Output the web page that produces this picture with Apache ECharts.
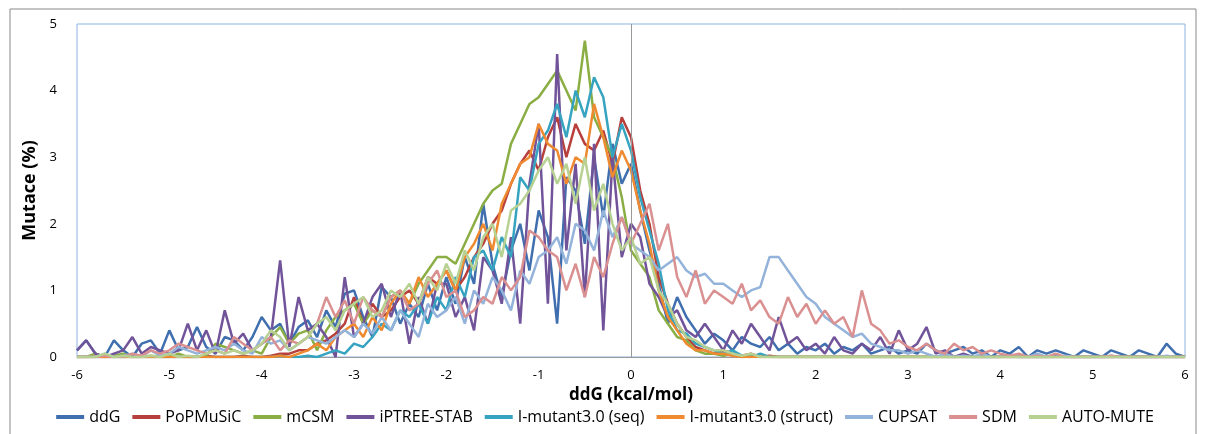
<!DOCTYPE html>
<html>
<head>
<meta charset="utf-8">
<script src="https://cdn.jsdelivr.net/npm/echarts@6/dist/echarts.min.js"></script>
<style>html,body{margin:0;padding:0;background:#fff}#main{width:1210px;height:434px}</style>
</head>
<body>
<div id="main"></div>
<script>
// x from -6 to 6, step 0.1
var xStart = -6, xStep = 0.1;
var names = ['ddG', 'PoPMuSiC', 'mCSM', 'iPTREE-STAB', 'I-mutant3.0 (seq)', 'I-mutant3.0 (struct)', 'CUPSAT', 'SDM', 'AUTO-MUTE'];
var colors = ['#3F6FAE', '#B8403C', '#8AAE44', '#71539A', '#36A4C0', '#F08A30', '#94B3DA', '#DA9090', '#B7D192'];

var ddG = [0.1,0.25,0.05,0,0.25,0.1,0,0.2,0.25,0.05,
  0.4,0.1,0.15,0.45,0.15,0.05,0.3,0.25,0.1,0.3,
  0.6,0.4,0.5,0.2,0.45,0.55,0.3,0.7,0.45,0.95,
  1.0,0.6,0.3,1.05,0.9,0.5,0.8,0.6,1.1,0.7,
  1.2,0.8,1.5,1.1,2.3,1.4,0.9,1.6,2.0,1.3,
  2.2,1.8,0.5,2.7,2.5,1.7,3.0,2.1,3.2,2.6,
  2.9,2.2,1.6,1.1,0.5,0.9,0.6,0.4,0.2,0.35,
  0.25,0.1,0.3,0.2,0.15,0.3,0.1,0.2,0.05,0.15,
  0.1,0.2,0.05,0.15,0.1,0.2,0.05,0.1,0.15,0.05,
  0.1,0.05,0.2,0.1,0.05,0.1,0.15,0.05,0.1,0,
  0.1,0.05,0.15,0,0.1,0.05,0.1,0.05,0,0.1,
  0.05,0,0.1,0.05,0,0.1,0.05,0,0.2,0.05,0];
var popmusic = [0,0,0,0,0,0,0,0,0,0,
  0,0,0,0,0.02,0,0,0,0.02,0,
  0,0.02,0.05,0.05,0.1,0.1,0.2,0.25,0.35,0.5,
  0.9,0.5,0.8,0.6,0.7,0.9,1.0,0.8,1.2,1.1,
  1.3,1.0,1.2,1.5,1.7,2.0,2.2,2.6,2.9,3.1,
  2.8,3.3,3.6,3.0,3.5,3.2,3.1,3.4,2.9,3.6,
  3.3,2.5,2.0,1.2,0.8,0.5,0.3,0.15,0.1,0.05,
  0.1,0.05,0.02,0.05,0,0.02,0,0,0,0,
  0,0,0,0,0,0,0,0,0,0,
  0,0,0,0,0,0,0,0,0,0,
  0,0,0,0,0,0,0,0,0,0,
  0,0,0,0,0,0,0,0,0,0,0];
var mcsm = [0,0,0.05,0,0.02,0.05,0,0,0.02,0,
  0,0.05,0,0,0.02,0.2,0.15,0.1,0.05,0.1,
  0.05,0.3,0.45,0.2,0.35,0.4,0.1,0.4,0.6,0.7,
  0.8,0.5,0.7,0.6,0.9,1.0,0.8,1.1,1.3,1.5,
  1.5,1.4,1.7,2.0,2.3,2.5,2.6,3.2,3.5,3.8,
  3.9,4.1,4.3,4.0,3.7,4.75,3.6,3.3,3.0,2.4,
  1.6,1.4,1.2,0.7,0.5,0.3,0.25,0.1,0.05,0.05,
  0.02,0.05,0,0.02,0,0,0,0,0,0,
  0,0,0,0,0,0,0,0,0,0,
  0,0,0,0,0,0,0,0,0,0,
  0,0,0,0,0,0,0,0,0,0,
  0,0,0,0,0,0,0,0,0,0,0];
var iptree = [0.1,0.25,0.05,0,0.05,0.1,0.3,0.05,0.15,0.1,
  0.05,0.1,0.5,0.1,0.4,0.05,0.7,0.2,0.35,0.1,
  0.2,0.3,1.45,0.15,0.9,0.4,0.5,0.3,0,1.2,
  0.3,0.5,0.9,1.1,0.6,1.0,0.2,0.9,0.5,1.1,
  1.1,0.6,0.9,0.4,1.5,1.3,0.8,1.8,0.5,2.6,
  3.5,0.8,4.55,1.6,2.9,0.9,3.2,0.4,3.0,1.5,
  2.0,1.8,1.1,0.9,0.6,0.7,0.4,0.3,0.5,0.3,
  0.1,0.4,0.2,0.5,0.3,0.1,0.6,0.2,0.3,0.1,
  0.2,0.05,0.3,0.1,0.05,0.2,0.1,0.3,0.05,0.4,
  0.1,0.2,0.45,0.05,0.1,0,0.05,0,0,0,
  0,0.02,0,0,0,0,0.02,0,0,0,
  0,0,0,0,0,0,0,0,0,0,0];
var imutSeq = [0,0,0,0,0,0,0,0,0,0,
  0,0,0,0,0,0,0,0,0,0,
  0,0,0.02,0,0,0.02,0,0.05,0.1,0.05,
  0.2,0.15,0.3,0.5,0.4,0.7,0.6,0.8,0.5,0.9,
  0.7,1.2,0.9,1.5,1.6,1.3,1.8,1.5,2.7,2.5,
  3.2,3.4,3.8,3.3,4.0,3.6,4.2,3.9,3.0,3.5,
  3.1,2.4,1.9,1.4,0.7,0.4,0.35,0.2,0.15,0.1,
  0.05,0.1,0.02,0,0.05,0,0,0,0,0,
  0,0,0,0,0,0,0,0,0,0,
  0,0,0,0,0,0,0,0,0,0,
  0,0,0,0,0,0,0,0,0,0,
  0,0,0,0,0,0,0,0,0,0,0];
var imutStruct = [0,0,0,0,0,0,0,0,0,0,
  0,0,0,0,0,0,0,0,0,0,
  0,0,0.02,0,0.05,0.1,0.2,0.1,0.3,0.4,
  0.5,0.3,0.6,0.4,0.8,1.0,0.8,1.2,0.9,1.1,
  1.3,1.0,1.5,1.7,2.0,1.6,2.3,2.6,2.9,3.0,
  3.5,3.2,3.1,2.6,3.0,2.9,3.8,3.3,2.7,3.1,
  2.8,2.2,1.7,1.0,0.6,0.4,0.2,0.1,0.1,0.05,
  0.05,0.02,0,0,0,0,0,0,0,0,
  0,0,0,0,0,0,0,0,0,0,
  0,0,0,0,0,0,0,0,0,0,
  0,0,0,0,0,0,0,0,0,0,
  0,0,0,0,0,0,0,0,0,0,0];
var cupsat = [0,0,0,0.05,0,0.02,0.05,0,0.1,0.02,
  0.05,0.15,0.1,0.05,0.1,0.15,0.1,0.2,0.1,0.05,
  0.3,0.2,0.25,0.1,0.2,0.3,0.25,0.2,0.3,0.4,
  0.3,0.5,0.35,0.6,0.4,0.7,0.5,0.3,0.8,0.6,
  0.7,0.9,0.5,1.0,0.8,1.2,1.0,0.7,1.3,1.1,
  1.5,1.6,1.8,1.4,2.0,1.9,1.6,2.2,1.8,2.1,
  1.7,1.6,1.5,1.3,1.4,1.5,1.3,1.2,1.25,1.1,
  1.1,1.0,0.9,1.0,1.05,1.5,1.5,1.3,1.1,0.9,
  0.8,0.6,0.5,0.4,0.3,0.35,0.2,0.15,0.1,0.1,
  0.05,0.1,0.05,0,0.05,0,0.02,0,0.05,0,
  0,0.02,0,0,0.05,0,0,0.02,0,0,
  0,0,0.02,0,0,0,0,0,0.02,0,0];
var sdm = [0,0,0,0.02,0,0,0.05,0.02,0.1,0.05,
  0.1,0.2,0.15,0.1,0.05,0.1,0.05,0.3,0.2,0.1,
  0.2,0.3,0.1,0.25,0.2,0.3,0.5,0.9,0.6,0.85,
  0.5,0.9,0.7,0.6,0.9,1.0,0.7,0.8,1.1,1.3,
  0.9,1.0,0.6,0.7,0.9,0.8,1.2,1.0,1.2,1.9,
  1.8,1.6,1.5,1.0,1.4,0.9,1.5,1.2,1.7,2.1,
  1.7,2.0,2.3,1.6,2.0,1.2,0.9,1.3,0.8,1.0,
  0.9,0.8,1.1,0.7,0.85,0.6,0.5,0.9,0.6,0.8,
  0.5,0.7,0.5,0.6,0.3,1.0,0.5,0.4,0.2,0.25,
  0.15,0.1,0.2,0.1,0.05,0.2,0.1,0.15,0.05,0.1,
  0.05,0.02,0.05,0,0.02,0,0.05,0,0,0,
  0,0,0.02,0,0,0,0,0,0,0,0];
var autoMute = [0,0,0,0.05,0,0.02,0,0,0.02,0,
  0.05,0,0.02,0,0.05,0.1,0.05,0.1,0.05,0.1,
  0.2,0.4,0.3,0.1,0.2,0.3,0.5,0.6,0.4,0.7,
  0.8,0.9,0.6,0.7,1.0,0.9,1.1,0.8,1.2,1.0,
  1.4,1.1,1.6,1.3,1.8,2.0,1.5,2.2,2.3,2.5,
  2.8,3.0,2.6,2.9,2.3,3.0,2.2,2.6,2.0,1.6,
  1.8,1.4,1.5,1.0,0.8,0.5,0.3,0.25,0.15,0.1,
  0.1,0.05,0.02,0.05,0,0,0,0,0,0,
  0,0,0,0,0,0,0,0,0,0,
  0,0,0,0,0,0,0,0,0,0,
  0,0,0,0,0,0,0,0,0,0,
  0,0,0,0,0,0,0,0,0,0,0];

var allData = [ddG, popmusic, mcsm, iptree, imutSeq, imutStruct, cupsat, sdm, autoMute];
var myChart = echarts.init(document.getElementById('main'));
var font = 'Open Sans';

var series = allData.map(function (arr, k) {
  var s = {
    name: names[k], type: 'line', showSymbol: false, symbol: 'none',
    lineStyle: { width: 2.5, color: colors[k] }, itemStyle: { color: colors[k] },
    data: arr.map(function (v, i) { return [+(xStart + i * xStep).toFixed(2), v]; })
  };
  if (k === 0) {
    s.markLine = { silent: true, symbol: 'none', label: { show: false },
      lineStyle: { color: '#999', type: 'solid', width: 1 }, data: [{ xAxis: 0 }] };
  }
  return s;
});

var option = {
  animation: false,
  color: colors,
  graphic: [{ type: 'rect', shape: { x: 10, y: 9, width: 1186, height: 430 },
    style: { fill: 'none', stroke: '#888', lineWidth: 1 } }],
  grid: { left: 77, right: 25, top: 24, bottom: 77, show: true, borderColor: '#8DB3E2', borderWidth: 1 },
  legend: {
    bottom: 4, left: 'center', itemWidth: 28, itemHeight: 4, itemGap: 12,
    icon: 'rect', textStyle: { fontFamily: font, fontSize: 16, color: '#000' }, data: names
  },
  xAxis: {
    type: 'value', min: -6, max: 6, interval: 1,
    name: 'ddG (kcal/mol)', nameLocation: 'middle', nameGap: 30,
    nameTextStyle: { fontFamily: font, fontSize: 17, fontWeight: 'bold', color: '#000' },
    axisLine: { show: true, lineStyle: { color: '#999' } }, axisTick: { show: false },
    splitLine: { show: false },
    axisLabel: { fontFamily: font, fontSize: 13, color: '#000', margin: 12 }
  },
  yAxis: {
    type: 'value', min: 0, max: 5, interval: 1,
    name: 'Mutace (%)', nameLocation: 'middle', nameGap: 36,
    nameTextStyle: { fontFamily: font, fontSize: 18, fontWeight: 'bold', color: '#000' },
    axisLine: { show: false }, axisTick: { show: false }, splitLine: { show: false },
    axisLabel: { fontFamily: font, fontSize: 13, color: '#000', margin: 20 }
  },
  series: series
};
myChart.setOption(option);
</script>
</body>
</html>
